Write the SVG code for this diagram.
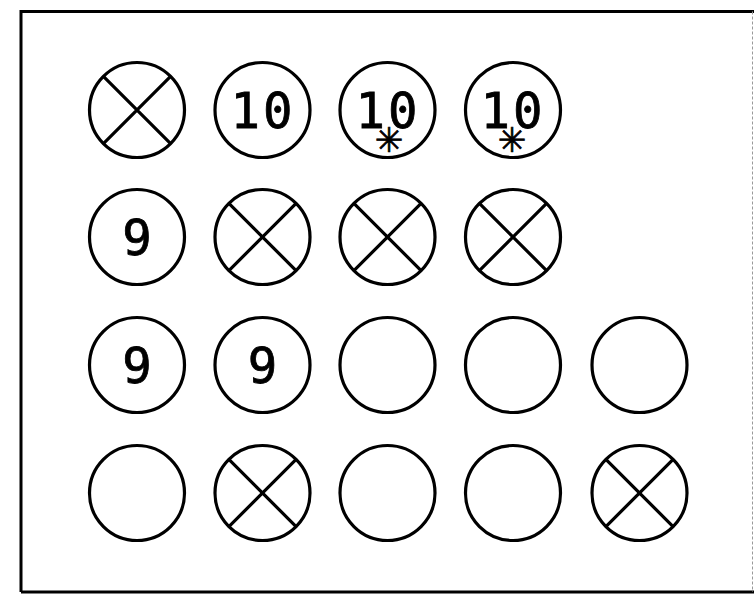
<svg xmlns="http://www.w3.org/2000/svg" width="754" height="596" viewBox="0 0 754 596">
<style>
.c{fill:#fff;stroke:#000;stroke-width:3.2}
.x{stroke:#000;stroke-width:3.2;fill:none}
.t{font-family:"DejaVu Sans Mono","Liberation Mono",monospace;font-size:49px;fill:#000;stroke:#000;stroke-width:0.8;text-anchor:middle}
.a{font-family:"DejaVu Sans","Liberation Sans",sans-serif;font-size:34px;fill:#000;stroke:#000;stroke-width:0.7;text-anchor:middle}
</style>
<defs>
<g id="cross"><circle class="c" r="47.5"/><path class="x" d="M-33.6,-33.6L33.6,33.6M33.6,-33.6L-33.6,33.6"/></g>
<circle id="ring" class="c" r="47.5"/>
</defs>
<rect width="754" height="596" fill="#fff"/>
<g id="frame">
<path d="M21,592V11.5H754" fill="none" stroke="#000" stroke-width="3"/>
<path d="M21,592H754" fill="none" stroke="#000" stroke-width="3"/>
<path d="M752.5,11.5V592" fill="none" stroke="#999" stroke-width="1" stroke-dasharray="3,2"/>
</g>
<g id="connectors"></g>
<g id="r1c1"><use href="#cross" x="137" y="110"/></g>
<g id="r1c2"><use href="#ring" x="262.5" y="110"/><text class="t" x="263" y="128" letter-spacing="3">10</text></g>
<g id="r1c3"><use href="#ring" x="387.5" y="110"/><text class="t" x="388" y="128" letter-spacing="3">10</text><text class="a" x="389" y="152">✳</text></g>
<g id="r1c4"><use href="#ring" x="513" y="110"/><text class="t" x="513" y="128" letter-spacing="3">10</text><text class="a" x="512" y="152">✳</text></g>
<g id="r2c1"><use href="#ring" x="137" y="237"/><text class="t" x="137" y="255">9</text></g>
<g id="r2c2"><use href="#cross" x="262.5" y="237"/></g>
<g id="r2c3"><use href="#cross" x="387.5" y="237"/></g>
<g id="r2c4"><use href="#cross" x="513" y="237"/></g>
<g id="r3c1"><use href="#ring" x="137" y="365"/><text class="t" x="137" y="383">9</text></g>
<g id="r3c2"><use href="#ring" x="262.5" y="365"/><text class="t" x="262.5" y="383">9</text></g>
<g id="r3c3"><use href="#ring" x="387.5" y="365"/></g>
<g id="r3c4"><use href="#ring" x="513" y="365"/></g>
<g id="r3c5"><use href="#ring" x="639.5" y="365"/></g>
<g id="r4c1"><use href="#ring" x="137" y="493"/></g>
<g id="r4c2"><use href="#cross" x="262.5" y="493"/></g>
<g id="r4c3"><use href="#ring" x="387.5" y="493"/></g>
<g id="r4c4"><use href="#ring" x="513" y="493"/></g>
<g id="r4c5"><use href="#cross" x="639.5" y="493"/></g>
</svg>
